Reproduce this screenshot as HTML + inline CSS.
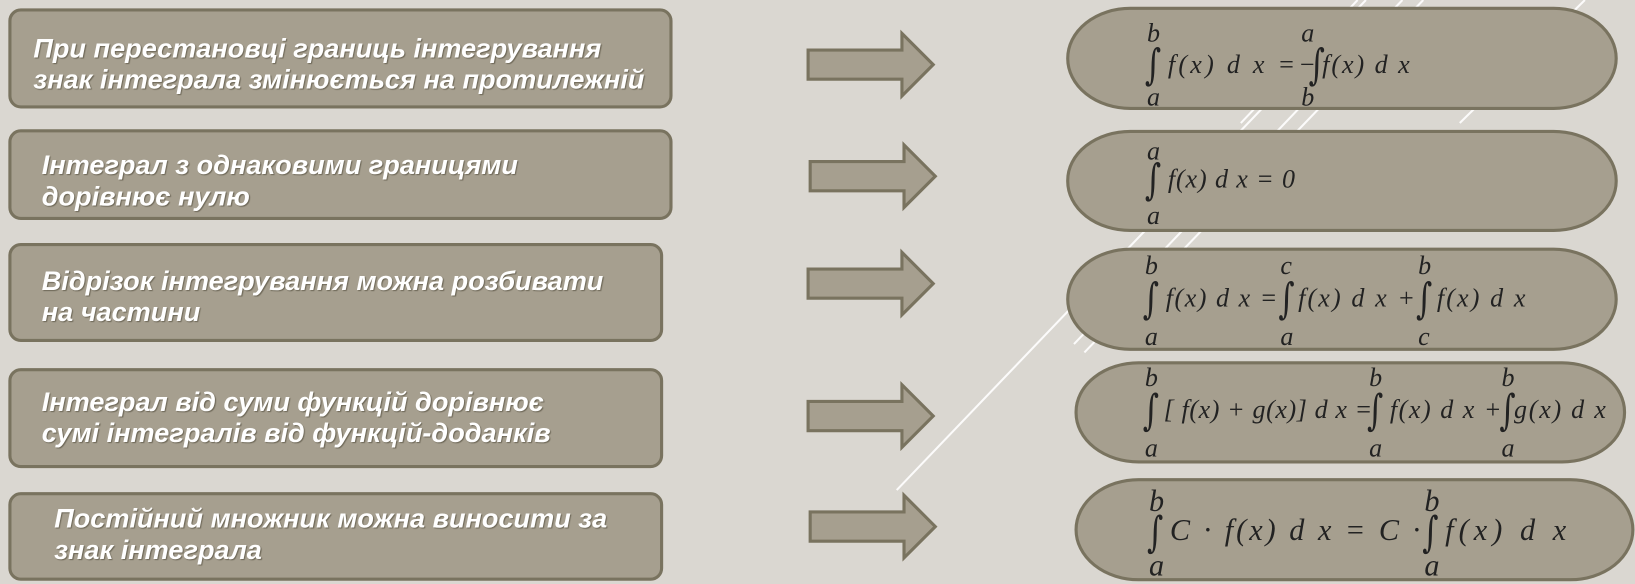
<!DOCTYPE html>
<html><head><meta charset="utf-8"><style>
html,body{margin:0;padding:0}
body{width:1635px;height:584px;position:relative;overflow:hidden;background:#dad7d1;font-family:"Liberation Sans",sans-serif}
#w{position:absolute;left:0;top:0;width:1568px;height:560px;transform:scale(1.0427);transform-origin:0 0}
.box{position:absolute;background:#a69f8f;border:3px solid #79735f;border-radius:12px;box-sizing:border-box}
.t{position:absolute;color:#fff;font-weight:bold;font-style:italic;font-size:26px;line-height:30px;text-shadow:1px 1px 1px #6d6757;white-space:nowrap}
svg{position:absolute;left:0;top:0}
</style></head><body><div id="w">
<svg width="1568" height="560">
<g stroke="#fff" stroke-width="2" opacity="0.9">
<line x1="860" y1="470" x2="1310" y2="0"/>
<line x1="1030" y1="330" x2="1345" y2="0"/>
<line x1="1040" y1="338" x2="1365" y2="0"/>
<line x1="1190" y1="118" x2="1302" y2="0"/>
<line x1="1400" y1="118" x2="1520" y2="0"/>
</g>
</svg>
<div class="box" style="left:8px;top:8px;width:637px;height:96px"></div>
<div class="box" style="left:8px;top:124px;width:637px;height:87px"></div>
<div class="box" style="left:8px;top:233px;width:628px;height:95px"></div>
<div class="box" style="left:8px;top:353px;width:628px;height:96px"></div>
<div class="box" style="left:8px;top:472px;width:628px;height:85px"></div>
<div class="t" style="left:32px;top:31px">При перестановці границь інтегрування<br>знак інтеграла змінюється на протилежній</div>
<div class="t" style="left:40px;top:143px">Інтеграл з однаковими границями<br>дорівнює нулю</div>
<div class="t" style="left:40px;top:254px">Відрізок інтегрування можна розбивати<br>на частини</div>
<div class="t" style="left:40px;top:370px">Інтеграл від суми функцій дорівнює<br>сумі інтегралів від функцій-доданків</div>
<div class="t" style="left:52px;top:482px">Постійний множник можна виносити за<br>знак інтеграла</div>
<svg width="1568" height="560">
<g fill="#a69f8f" stroke="#79735f" stroke-width="3">
<path d="M775 48H865V32L895 62L865 92V76H775Z"/>
<path d="M777 155H867V139L897 169L867 199V183H777Z"/>
<path d="M775 258H865V242L895 272L865 302V286H775Z"/>
<path d="M775 385H865V369L895 399L865 429V413H775Z"/>
<path d="M777 491H867V475L897 505L867 535V519H777Z"/>
<rect x="1024" y="8" width="526" height="96" rx="60" ry="48"/>
<rect x="1024" y="126" width="526" height="95" rx="60" ry="47"/>
<rect x="1024" y="239" width="526" height="96" rx="60" ry="48"/>
<rect x="1032" y="348" width="526" height="95" rx="60" ry="47"/>
<rect x="1032" y="460" width="534" height="96" rx="60" ry="48"/>
</g>
<g font-family="'Liberation Serif',serif" font-style="italic" font-size="25" fill="#222">
<text x="1100" y="40">b</text><text x="1100" y="101">a</text>
<text x="1248" y="40">a</text><text x="1248" y="101">b</text>
<text x="1120" y="70" textLength="142">f(x) d x =−</text>
<text x="1268" y="70" textLength="84">f(x) d x</text>
<text x="1100" y="153">a</text><text x="1100" y="215">a</text>
<text x="1120" y="180" textLength="122">f(x) d x = 0</text>
<text x="1098" y="263">b</text><text x="1098" y="331">a</text>
<text x="1228" y="263">c</text><text x="1228" y="331">a</text>
<text x="1360" y="263">b</text><text x="1360" y="331">c</text>
<text x="1118" y="294" textLength="107">f(x) d x =</text>
<text x="1245" y="294" textLength="112">f(x) d x +</text>
<text x="1378" y="294" textLength="85">f(x) d x</text>
<text x="1098" y="370">b</text><text x="1098" y="438">a</text>
<text x="1313" y="370">b</text><text x="1313" y="438">a</text>
<text x="1440" y="370">b</text><text x="1440" y="438">a</text>
<text x="1116" y="401" textLength="200">[ f(x) + g(x)] d x =</text>
<text x="1333" y="401" textLength="107">f(x) d x +</text>
<text x="1452" y="401" textLength="88">g(x) d x</text>
<g font-size="29">
<text x="1102" y="490">b</text><text x="1102" y="552">a</text>
<text x="1366" y="490">b</text><text x="1366" y="552">a</text>
<text x="1122" y="518" textLength="240">C · f(x) d x = C ·</text>
<text x="1386" y="518" textLength="116">f(x) d x</text>
</g>
</g>
<g font-family="'DejaVu Serif',serif" font-size="30" fill="#222">
<text transform="translate(1098,76) scale(1,1.35)">∫</text>
<text transform="translate(1255,76) scale(1,1.35)">∫</text>
<text transform="translate(1098,186) scale(1,1.35)">∫</text>
<text transform="translate(1096,300) scale(1,1.35)">∫</text>
<text transform="translate(1226,300) scale(1,1.35)">∫</text>
<text transform="translate(1358,300) scale(1,1.35)">∫</text>
<text transform="translate(1096,407) scale(1,1.35)">∫</text>
<text transform="translate(1311,407) scale(1,1.35)">∫</text>
<text transform="translate(1438,407) scale(1,1.35)">∫</text>
<text transform="translate(1100,524) scale(1,1.35)">∫</text>
<text transform="translate(1364,524) scale(1,1.35)">∫</text>
</g>
</svg>
</div></body></html>
